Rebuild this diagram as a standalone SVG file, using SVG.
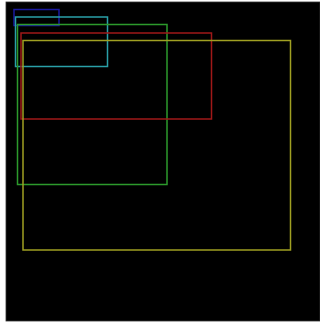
<svg xmlns="http://www.w3.org/2000/svg" width="320" height="325" viewBox="0 0 320 325">
<style>
.b{fill:none;stroke-width:1.5}
</style>
<rect x="0" y="0" width="320" height="325" fill="#ffffff"/>
<rect x="6" y="2" width="314" height="319" fill="#000000" stroke="#333" stroke-width="0.8"/>
<g id="blue"><rect class="b" x="14" y="9.5" width="45" height="16" stroke="#1a1aa0"/></g>
<g id="cyan"><rect class="b" x="15.5" y="17" width="92" height="49.5" stroke="#2aa0a8"/></g>
<g id="green"><rect class="b" x="17.5" y="24.5" width="149.5" height="160" stroke="#2c9a2c"/></g>
<g id="red"><rect class="b" x="21" y="33" width="190.5" height="86" stroke="#a01818"/></g>
<g id="yellow"><rect class="b" x="23" y="40.5" width="267.5" height="209.5" stroke="#a0a022"/></g>
</svg>
